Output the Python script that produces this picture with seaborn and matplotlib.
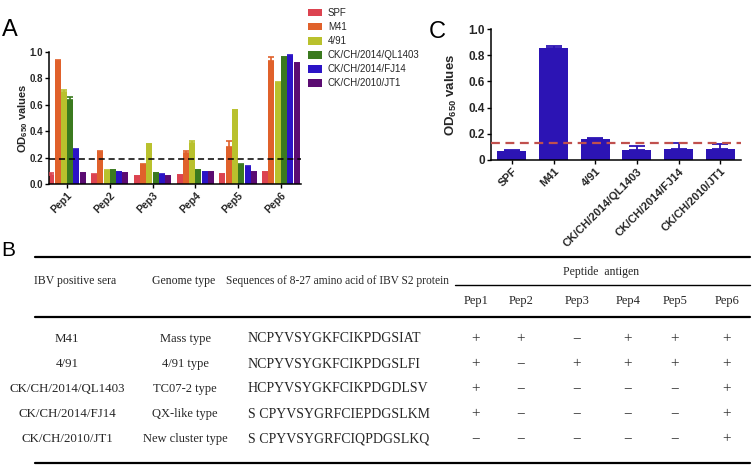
import numpy as np
import pandas as pd
import matplotlib
matplotlib.use("Agg")
import matplotlib.pyplot as plt
import seaborn as sns
from matplotlib.lines import Line2D

# ---------------- data ----------------
peptides = ["Pep1", "Pep2", "Pep3", "Pep4", "Pep5", "Pep6"]
strains = ["SPF", "M41", "4/91", "CK/CH/2014/QL1403", "CK/CH/2014/FJ14", "CK/CH/2010/JT1"]

spf_vals = [0.07, 0.07, 0.06, 0.065, 0.075, 0.09]
m41_vals = [0.93, 0.245, 0.145, 0.235, 0.28, 0.93]
v491_vals = [0.70, 0.10, 0.30, 0.31, 0.56, 0.765]
ql1403_vals = [0.64, 0.105, 0.08, 0.105, 0.145, 0.96]
fj14_vals = [0.26, 0.088, 0.07, 0.09, 0.13, 0.97]
jt1_vals = [0.08, 0.08, 0.06, 0.088, 0.09, 0.915]

spf_err = [0.015, 0.004, 0.004, 0.006, 0.004, 0.004]
m41_err = [0.01, 0.005, 0.005, 0.018, 0.045, 0.03]
v491_err = [0.015, 0.004, 0.004, 0.015, 0.004, 0.004]
ql1403_err = [0.02, 0.004, 0.004, 0.004, 0.004, 0.004]
fj14_err = [0.004, 0.004, 0.004, 0.004, 0.004, 0.004]
jt1_err = [0.004, 0.004, 0.004, 0.004, 0.004, 0.004]

cutoff_a = 0.19

c_vals = [0.07, 0.855, 0.16, 0.08, 0.085, 0.085]
c_err = [0.003, 0.015, 0.01, 0.025, 0.045, 0.035]
cutoff_c = 0.13

# table
tbl_sera = ["M41", "4/91", "CK/CH/2014/QL1403", "CK/CH/2014/FJ14", "CK/CH/2010/JT1"]
tbl_genome = ["Mass type", "4/91 type", "TC07-2 type", "QX-like type", "New cluster type"]
tbl_seq = ["NCPYVSYGKFCIKPDGSIAT", "NCPYVSYGKFCIKPDGSLFI", "HCPYVSYGKFCIKPDGDLSV",
           "S CPYVSYGRFCIEPDGSLKM", "S CPYVSYGRFCIQPDGSLKQ"]
tbl_react = [["+", "+", "−", "+", "+", "+"],
             ["+", "−", "+", "+", "+", "+"],
             ["+", "−", "−", "−", "−", "+"],
             ["+", "−", "−", "−", "−", "+"],
             ["−", "−", "−", "−", "−", "+"]]

colors_a = ["#dc4350", "#e0612b", "#b9c12d", "#3b7a1f", "#2b13c6", "#5b0b72"]
color_c = "#2c14b4"

# ---------------- style ----------------
sns.set_theme(style="ticks")
plt.rcParams["font.family"] = ["Liberation Sans", "DejaVu Sans"]
plt.rcParams["mathtext.fontset"] = "custom"
plt.rcParams["mathtext.rm"] = "Liberation Sans:bold"
plt.rcParams["mathtext.bf"] = "Liberation Sans:bold"
plt.rcParams["mathtext.default"] = "bf"

W, H = 752, 469
fig = plt.figure(figsize=(W / 100, H / 100), dpi=100)

def fx(px):
    return px / W

def fy(py):
    return 1 - py / H

# background axes in pixel coordinates (table + letters)
bg = fig.add_axes([0, 0, 1, 1], zorder=0)
bg.set_xlim(0, W)
bg.set_ylim(H, 0)
bg.axis("off")

# ---------------- panel A ----------------
long_rows = []
all_vals = [spf_vals, m41_vals, v491_vals, ql1403_vals, fj14_vals, jt1_vals]
all_errs = [spf_err, m41_err, v491_err, ql1403_err, fj14_err, jt1_err]
for s, vals in zip(strains, all_vals):
    for p, v in zip(peptides, vals):
        long_rows.append({"Peptide": p, "Strain": s, "OD": v})
df_a = pd.DataFrame(long_rows)

axA = fig.add_axes([fx(49), fy(184), fx(301) - fx(49), fy(52) - fy(184)], zorder=2)
sns.barplot(data=df_a, x="Peptide", y="OD", hue="Strain", order=peptides,
            hue_order=strains, palette=colors_a, width=0.88, gap=0.05,
            errorbar=None, saturation=1, ax=axA, linewidth=0)
for cont, errs, col in zip(axA.containers, all_errs, colors_a):
    xs = [p.get_x() + p.get_width() / 2 for p in cont]
    ys = [p.get_height() for p in cont]
    axA.errorbar(xs, ys, yerr=[np.zeros(len(errs)), errs], fmt="none",
                 ecolor=col, elinewidth=1.2, capsize=2.2, capthick=1.2, zorder=3)
axA.axhline(cutoff_a, color="black", lw=1.1, ls=(0, (4, 2.5)), zorder=4)
axA.set_xlim(-0.42, 5.47)
axA.set_ylim(0, 1.0)
axA.set_yticks([0, 0.2, 0.4, 0.6, 0.8, 1.0])
axA.set_yticklabels(["0.0", "0.2", "0.4", "0.6", "0.8", "1.0"])
axA.set_xticks(range(len(peptides)))
axA.set_xticklabels(peptides, rotation=45, ha="right", rotation_mode="anchor")
axA.set_xlabel("")
axA.set_ylabel(r"OD$_{650}$ values", fontsize=8, fontweight="bold")
axA.yaxis.set_label_coords(-0.075, 0.5)
for lab in axA.get_xticklabels():
    lab.set_fontweight("bold")
    lab.set_fontsize(7.5)
for lab in axA.get_yticklabels():
    lab.set_fontweight("bold")
    lab.set_fontsize(7)
axA.tick_params(axis="both", length=3, width=1, color="black", pad=1.5)
for sp in ["top", "right"]:
    axA.spines[sp].set_visible(False)
for sp in ["left", "bottom"]:
    axA.spines[sp].set_linewidth(1.1)
    axA.spines[sp].set_color("black")
axA.set_facecolor("none")

handles, labels = axA.get_legend_handles_labels()
axA.legend(handles, labels, loc="upper left", bbox_to_anchor=(fx(308), fy(8)),
           bbox_transform=fig.transFigure, frameon=False, fontsize=7,
           handlelength=1.45, handleheight=0.8, labelspacing=0.42,
           handletextpad=0.6, borderpad=0, borderaxespad=0)

# ---------------- panel C ----------------
df_c = pd.DataFrame({"Strain": strains, "OD": c_vals})
axC = fig.add_axes([fx(491), fy(160), fx(741) - fx(491), fy(29) - fy(160)], zorder=2)
sns.barplot(data=df_c, x="Strain", y="OD", order=strains, color=color_c,
            width=0.7, errorbar=None, saturation=1, ax=axC, linewidth=0)
xs = [p.get_x() + p.get_width() / 2 for p in axC.patches]
ys = [p.get_height() for p in axC.patches]
axC.errorbar(xs, ys, yerr=[np.zeros(len(c_err)), c_err], fmt="none",
             ecolor=color_c, elinewidth=1.3, capsize=6, capthick=1.3, zorder=3)
axC.axhline(cutoff_c, color="#c0504d", lw=1.6, ls=(0, (4, 2.5)), zorder=4)
axC.set_xlim(-0.5, 5.5)
axC.set_ylim(0, 1.0)
axC.set_yticks([0, 0.2, 0.4, 0.6, 0.8, 1.0])
axC.set_yticklabels(["0", "0.2", "0.4", "0.6", "0.8", "1.0"])
axC.set_xticks(range(len(strains)))
axC.set_xticklabels(strains, rotation=45, ha="right", rotation_mode="anchor")
axC.set_xlabel("")
axC.set_ylabel(r"OD$_{650}$ values", fontsize=9.5, fontweight="bold")
axC.yaxis.set_label_coords(-0.13, 0.5)
for lab in axC.get_xticklabels():
    lab.set_fontweight("bold")
    lab.set_fontsize(8)
for lab in axC.get_yticklabels():
    lab.set_fontweight("bold")
    lab.set_fontsize(8.5)
axC.tick_params(axis="both", length=3, width=1, color="black", pad=1.5)
for sp in ["top", "right"]:
    axC.spines[sp].set_visible(False)
for sp in ["left", "bottom"]:
    axC.spines[sp].set_linewidth(1.1)
    axC.spines[sp].set_color("black")
axC.set_facecolor("none")

# ---------------- panel letters ----------------
bg.text(10, 30, "A", fontsize=17, ha="center", va="center", color="black")
bg.text(437, 32, "C", fontsize=17, ha="center", va="center", color="black")
bg.text(8, 251, "B", fontsize=15, ha="center", va="center", color="black")

# ---------------- panel B table ----------------
serif = ["Liberation Serif", "DejaVu Serif"]
bg.add_line(Line2D([35, 750], [257, 257], color="black", lw=1.6))
bg.add_line(Line2D([455, 750], [285, 285], color="black", lw=1.0))
bg.add_line(Line2D([35, 750], [317, 317], color="black", lw=1.6))
bg.add_line(Line2D([35, 750], [463, 463], color="black", lw=1.6))

hdr_y = 281
bg.text(75, hdr_y, "IBV positive sera", family=serif, fontsize=8.5, ha="center", va="center")
bg.text(184, hdr_y, "Genome type", family=serif, fontsize=8.5, ha="center", va="center")
bg.text(338, hdr_y, "Sequences of 8-27 amino acid of IBV S2 protein", family=serif,
        fontsize=8.3, ha="center", va="center")
bg.text(601, 272, "Peptide  antigen", family=serif, fontsize=8.5, ha="center", va="center")

col_x = [476, 521, 577, 628, 675, 727]
for px, name in zip(col_x, peptides):
    bg.text(px, 301, name, family=serif, fontsize=9, ha="center", va="center")

row_y = [339, 364, 389, 414, 439]
for i, yy in enumerate(row_y):
    bg.text(67, yy, tbl_sera[i], family=serif, fontsize=9.3, ha="center", va="center")
    bg.text(185, yy, tbl_genome[i], family=serif, fontsize=9, ha="center", va="center")
    bg.text(248, yy, tbl_seq[i], family=serif, fontsize=10, ha="left", va="center")
    for j, px in enumerate(col_x):
        bg.text(px, yy, tbl_react[i][j], family=serif, fontsize=11, ha="center",
                va="center", color="#333333")

fig.savefig("out.png", dpi=100)
